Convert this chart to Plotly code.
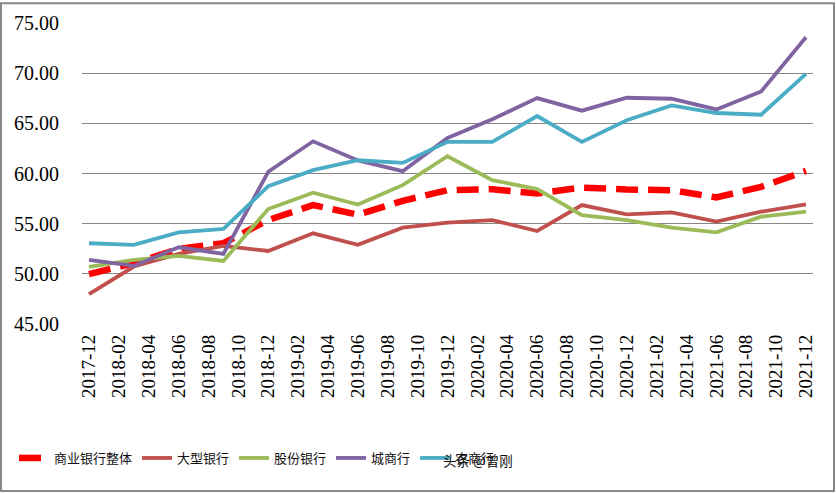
import plotly.graph_objects as go

# quarterly observation dates
quarters = ["2017-12", "2018-03", "2018-06", "2018-09", "2018-12", "2019-03", "2019-06",
            "2019-09", "2019-12", "2020-03", "2020-06", "2020-09", "2020-12", "2021-03",
            "2021-06", "2021-09", "2021-12"]

# axis tick labels (every two months)
tick_labels = ["2017-12", "2018-02", "2018-04", "2018-06", "2018-08", "2018-10", "2018-12",
               "2019-02", "2019-04", "2019-06", "2019-08", "2019-10", "2019-12",
               "2020-02", "2020-04", "2020-06", "2020-08", "2020-10", "2020-12",
               "2021-02", "2021-04", "2021-06", "2021-08", "2021-10", "2021-12"]

series_names = ["商业银行整体", "大型银行", "股份银行", "城商行", "农商行"]

overall = [49.97, 51.06, 52.48, 53.05, 55.36, 56.85, 55.90, 57.28, 58.34, 58.44, 58.00,
           58.60, 58.41, 58.34, 57.62, 58.67, 60.26]
large = [47.98, 50.73, 51.99, 52.78, 52.28, 54.04, 52.90, 54.60, 55.10, 55.36, 54.27,
         56.85, 55.93, 56.13, 55.20, 56.19, 56.92]
joint_stock = [50.70, 51.39, 51.79, 51.29, 56.46, 58.08, 56.90, 58.84, 61.72, 59.34, 58.44,
               55.86, 55.36, 54.60, 54.14, 55.70, 56.19]
city = [51.39, 50.79, 52.65, 51.99, 60.17, 63.21, 61.30, 60.23, 63.54, 65.40, 67.52,
        66.26, 67.55, 67.45, 66.39, 68.18, 73.58]
rural = [53.05, 52.88, 54.14, 54.47, 58.74, 60.33, 61.32, 61.06, 63.15, 63.15, 65.73,
         63.15, 65.30, 66.79, 66.03, 65.86, 69.93]


def month_index(s):
    y, m = s.split("-")
    return (int(y) - 2017) * 12 + int(m) - 12


x_vals = [month_index(q) for q in quarters]
tick_vals = [month_index(t) for t in tick_labels]

series = [overall, large, joint_stock, city, rural]
colors = ["#FF0000", "#C0504D", "#9BBB59", "#8064A2", "#4BACC6"]

fig = go.Figure()
for i, (name, vals, col) in enumerate(zip(series_names, series, colors)):
    if i == 0:
        line = dict(color=col, width=6.5, dash="22px,10px")
    else:
        line = dict(color=col, width=3.8)
    fig.add_trace(go.Scatter(x=x_vals, y=vals, name=name, mode="lines", line=line))

W, H = 836, 493
L, R, T, B = 82, 23, 21, 169
pw, ph = W - L - R, H - T - B

fig.update_layout(
    width=W, height=H,
    margin=dict(l=L, r=R, t=T, b=B, pad=0),
    paper_bgcolor="white", plot_bgcolor="white",
    font=dict(family="Liberation Serif, Noto Sans CJK SC", color="black"),
    showlegend=True,
    legend=dict(
        orientation="h", xref="container", yref="container",
        x=14 / W, y=1 - 443 / H, xanchor="left", yanchor="top",
        font=dict(family="Noto Sans CJK SC", size=13, color="#111"),
        itemwidth=30, tracegroupgap=0, bgcolor="rgba(0,0,0,0)",
    ),
    xaxis=dict(
        range=[-0.47, 48.47], tickmode="array", tickvals=tick_vals, ticktext=tick_labels,
        tickangle=-90, tickfont=dict(size=19, family="Liberation Serif"),
        showgrid=False, zeroline=False, showline=False, ticks="",
        ticklabelstandoff=6,
    ),
    yaxis=dict(
        range=[45, 75], tickmode="array", tickvals=[45, 50, 55, 60, 65, 70, 75],
        tickformat=".2f", tickfont=dict(size=20, family="Liberation Serif"),
        showgrid=True, gridcolor="#888888", gridwidth=1.3,
        zeroline=False, showline=False, ticks="", ticklabelstandoff=22,
    ),
    shapes=[dict(
        type="rect", xref="paper", yref="paper",
        x0=(1 - L) / pw, x1=(W - 2 - L) / pw,
        y0=(H - B - (H - 1)) / ph, y1=(H - B - 1) / ph,
        line=dict(color="#888888", width=2), fillcolor="rgba(0,0,0,0)", layer="above",
    )],
    annotations=[dict(
        text="头条 @曾刚", xref="paper", yref="paper",
        x=(478 - L) / pw, y=(H - B - 461) / ph, xanchor="center", yanchor="middle",
        showarrow=False, font=dict(family="Noto Sans CJK SC", size=13.5, color="#111"),
    )],
)

fig.write_html(
    "out.html",
    config={"displayModeBar": False},
    post_script="document.body.style.margin='0';document.body.style.overflow='hidden';",
)
